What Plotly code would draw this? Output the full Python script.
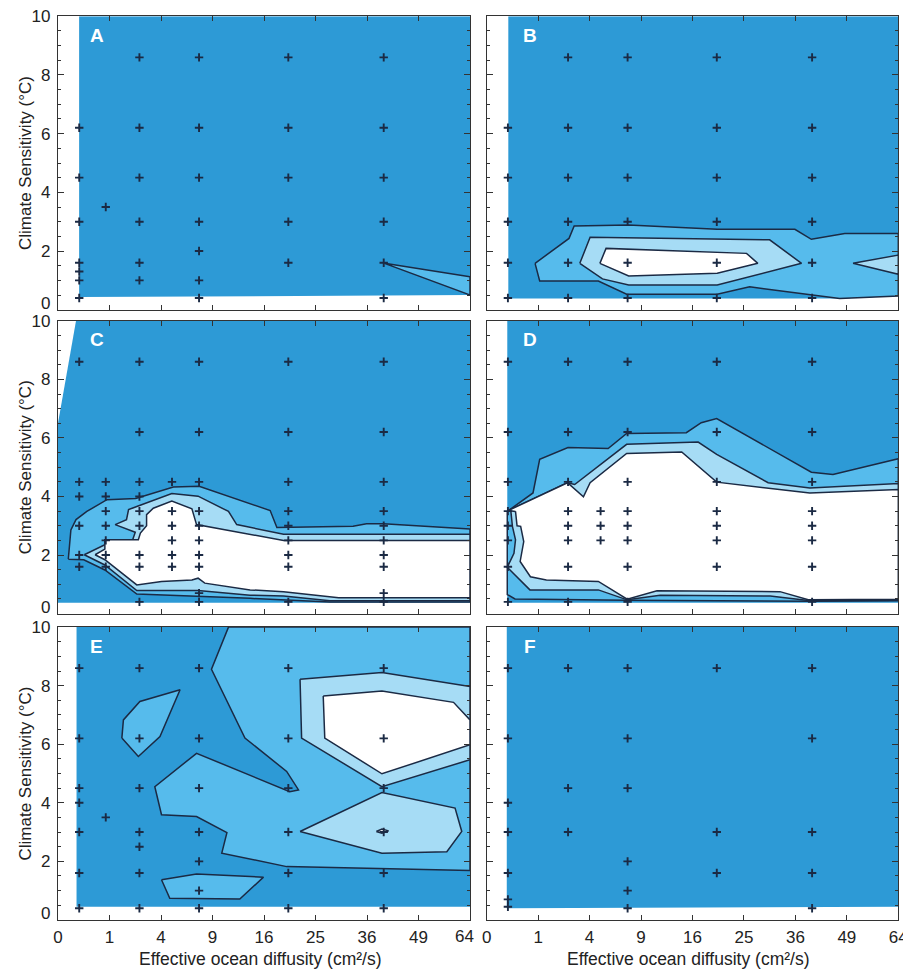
import numpy as np
import plotly.graph_objects as go

# ---------------- colours ----------------
DARK = "#2d9ad6"
MED = "#56bbec"
LIGHT = "#a6dcf5"
WHITE = "#ffffff"
LINE = "#1b2a44"
FONT = "Liberation Sans, Arial, Helvetica, sans-serif"

# ---------------- axes ----------------
DIFF_TICKS = [0, 1, 4, 9, 16, 25, 36, 49, 64]          # cm^2/s, sqrt-scaled axis
SENS_TICKS = [0, 2, 4, 6, 8, 10]                         # deg C
PANEL_LETTERS = ["A", "B", "C", "D", "E", "F"]

# model-run grid: diffusivity columns (cm^2/s)
GRID_K = {"a": 0.17, "b": 0.86, "c": 2.5, "d": 4.9, "e": 7.5, "f": 20.0, "g": 40.0}

# model runs (+ markers): column -> climate sensitivities
RUNS_A = {"a": [6.2, 4.5, 3.0, 1.6, 1.3, 1.0, 0.4], "b": [3.5],
          "c": [8.6, 6.2, 4.5, 3.0, 1.6, 1.0], "e": [8.6, 6.2, 4.5, 3.0, 2.0, 1.0, 0.4],
          "f": [8.6, 6.2, 4.5, 3.0, 1.6], "g": [8.6, 6.2, 4.5, 3.0, 1.6, 0.4]}
RUNS_B = {"a": [6.2, 4.5, 3.0, 1.6, 0.4], "c": [8.6, 6.2, 4.5, 3.0, 1.6, 0.4],
          "e": [8.6, 6.2, 4.5, 3.0, 1.6, 0.4], "f": [8.6, 6.2, 4.5, 3.0, 1.6, 0.4],
          "g": [8.6, 6.2, 4.5, 3.0, 1.6, 0.4]}
RUNS_C = {"a": [8.6, 4.5, 4.0, 3.0, 2.0, 1.6], "b": [4.5, 4.0, 3.5, 3.0, 2.5, 2.0, 1.6],
          "c": [8.6, 6.2, 4.5, 4.0, 3.5, 3.0, 2.0, 1.6, 0.4], "d": [4.5, 3.5, 3.0, 2.5, 2.0, 1.6],
          "e": [8.6, 6.2, 4.5, 3.5, 3.0, 2.5, 2.0, 1.6, 0.7, 0.4],
          "f": [8.6, 6.2, 4.5, 3.5, 3.0, 2.5, 2.0, 1.6, 0.4],
          "g": [8.6, 6.2, 4.5, 3.5, 3.0, 2.5, 2.0, 1.6, 0.7, 0.4]}
RUNS_D = {"a": [8.6, 6.2, 4.5, 3.5, 3.0, 2.5, 1.6, 0.4], "c": [8.6, 6.2, 4.5, 3.5, 3.0, 2.5, 1.6, 0.4],
          "d": [3.5, 3.0, 2.5], "e": [8.6, 6.2, 4.5, 3.5, 3.0, 2.5, 1.6, 0.4],
          "f": [8.6, 6.2, 4.5, 3.5, 3.0, 2.5, 1.6], "g": [8.6, 6.2, 4.5, 3.5, 3.0, 2.5, 1.6, 0.4]}
RUNS_E = {"a": [8.6, 6.2, 4.5, 4.0, 3.0, 1.6, 0.4], "b": [3.5],
          "c": [8.6, 6.2, 4.5, 3.0, 2.5, 1.6, 0.4], "e": [8.6, 6.2, 4.5, 3.0, 2.0, 1.0, 0.4],
          "f": [8.6, 6.2, 4.5, 3.0, 1.6, 0.4], "g": [8.6, 6.2, 4.5, 3.0, 1.6, 0.4]}
RUNS_F = {"a": [8.6, 6.2, 4.0, 3.0, 1.6, 0.7, 0.45], "c": [8.6, 4.5, 3.0],
          "e": [8.6, 6.2, 4.5, 2.0, 1.0, 0.4], "f": [8.6, 3.0, 1.6], "g": [8.6, 6.2, 3.0, 1.6, 0.4]}

# ---------------- contour regions: vertices (sqrt(K), sensitivity) ----------------
A_BASE = [(0.41, 0.43), (8, 0.5), (8, 10), (0.41, 10)]
A_MED = [[(6.34, 1.58), (8, 1.12), (8, 0.5)]]
A_LIGHT = []
A_WHITE = []

B_BASE = [(0.42, 0.38), (6.86, 0.38), (8, 0.47), (8, 10), (0.42, 10)]
B_MED = [[(0.94, 1.58), (1.03, 0.98), (2.17, 0.98), (2.72, 0.53), (4.48, 0.53), (5.11, 0.78),
          (6.86, 0.38), (8, 0.47), (8, 2.6), (6.96, 2.6), (6.31, 2.4), (5.99, 2.74),
          (4.48, 2.74), (2.76, 2.89), (1.70, 2.85), (1.60, 2.43)]]
B_LIGHT = [[(1.81, 1.58), (2.01, 2.47), (5.50, 2.38), (6.12, 1.58), (4.48, 0.84), (2.76, 0.84),
            (2.25, 1.05)],
           [(7.12, 1.58), (8, 1.86), (8, 1.21)]]
B_WHITE = [[(2.20, 1.58), (2.32, 2.09), (5.05, 1.92), (5.27, 1.58), (4.48, 1.24), (2.76, 1.15)]]

C_BASE = [(0, 0.37), (8, 0.37), (8, 10), (0.35, 10), (0, 6.5)]
C_MED = [[(0.20, 1.86), (0.25, 2.86), (0.35, 3.21), (0.56, 3.49), (0.95, 3.89), (1.51, 3.93),
          (2.24, 4.32), (2.74, 4.35), (4.12, 3.52), (4.25, 2.94), (5.73, 2.98), (5.99, 3.07),
          (6.32, 3.07), (8, 2.89), (8, 0.40), (5.28, 0.40), (3.73, 0.52), (2.72, 0.58),
          (1.53, 0.67), (0.91, 1.49), (0.5, 1.84)]]
C_LIGHT = [[(0.51, 2.01), (0.91, 2.35), (0.91, 2.52), (1.45, 2.52), (1.50, 2.78), (1.11, 3.04),
            (1.33, 3.21), (1.37, 3.55), (1.53, 3.66), (2.21, 4.10), (2.72, 4.01), (3.31, 3.49),
            (3.47, 3.04), (4.38, 2.71), (8, 2.71), (8, 0.44), (5.28, 0.44), (4.38, 0.60),
            (3.73, 0.63), (2.72, 0.79), (1.53, 0.79), (0.91, 1.66)]]
C_WHITE = [[(0.72, 2.01), (0.91, 2.2), (0.91, 2.52), (1.56, 2.52), (1.60, 2.75), (1.72, 3.0),
            (1.72, 3.38), (1.85, 3.6), (2.21, 3.84), (2.60, 3.58), (2.69, 3.04), (4.38, 2.5),
            (8, 2.5), (8, 0.54), (5.45, 0.54), (4.38, 0.75), (3.73, 0.81), (2.85, 1.04),
            (2.72, 1.21), (2.60, 1.15), (2.01, 1.10), (1.53, 0.98), (0.91, 1.84)]]

D_BASE = [(0.40, 0.37), (8, 0.37), (8, 10), (0.40, 10)]
D_MED = [[(0.40, 3.49), (0.90, 4.12), (1.03, 5.27), (1.58, 5.67), (2.36, 5.64), (2.72, 6.15),
          (3.88, 6.18), (4.17, 6.52), (4.47, 6.66), (6.31, 4.83), (6.73, 4.75), (8, 5.29),
          (8, 0.44), (6.3, 0.42), (2.73, 0.46), (0.55, 0.5), (0.40, 0.65)]]
D_LIGHT = [[(0.47, 3.49), (0.41, 3.51), (1.57, 4.47), (1.71, 4.41), (2.72, 5.78), (4.11, 5.86),
            (4.47, 5.44), (5.47, 4.47), (6.28, 4.29), (8, 4.44), (8, 0.46), (6.25, 0.45),
            (5.51, 0.60), (3.37, 0.63), (2.73, 0.47), (2.17, 0.81), (0.84, 0.81), (0.40, 1.58),
            (0.53, 2.06), (0.56, 2.52), (0.50, 2.98)]]
D_WHITE = [[(0.56, 3.49), (0.42, 3.52), (1.57, 4.47), (1.88, 3.99), (2.01, 4.47), (2.72, 5.47),
            (3.79, 5.52), (4.47, 4.49), (6.28, 4.12), (8, 4.24), (8, 0.49), (6.25, 0.47),
            (5.70, 0.75), (3.31, 0.78), (2.73, 0.49), (2.17, 1.10), (1.16, 1.15), (0.85, 1.26),
            (0.65, 1.78), (0.72, 2.46), (0.66, 2.98), (0.59, 3.0)]]

E_BASE = [(0.36, 0.45), (8, 0.45), (8, 10), (0.36, 10)]
E_MED = [[(3.31, 10), (8, 10), (8, 1.69), (4.44, 1.82), (3.18, 2.28), (3.28, 2.98), (2.69, 3.53),
          (2.01, 3.59), (1.88, 4.55), (2.69, 5.69), (4.50, 4.38), (4.67, 4.44), (4.44, 5.07),
          (3.63, 6.21), (2.98, 8.56)],
         [(1.24, 6.21), (1.27, 6.83), (1.59, 7.46), (2.37, 7.86), (1.98, 6.26), (1.56, 5.58)],
         [(2.01, 1.37), (2.69, 1.57), (3.99, 1.46), (3.53, 0.71), (2.17, 0.74)]]
E_LIGHT = [[(4.70, 8.22), (6.29, 8.45), (8, 7.97), (8, 5.47), (6.29, 4.55), (4.73, 6.21)],
           [(4.70, 3.02), (6.29, 4.35), (7.71, 3.82), (7.84, 3.02), (7.55, 2.33), (6.29, 2.28)]]
E_WHITE = [[(5.15, 7.65), (6.29, 7.82), (7.68, 7.43), (8, 6.83), (8, 5.98), (6.29, 4.99),
            (5.18, 6.21)],
           [(6.18, 3.02), (6.29, 3.1), (6.42, 3.04), (6.29, 2.96)]]

F_BASE = [(0.39, 0.4), (8, 0.45), (8, 10), (0.39, 10)]
F_MED, F_LIGHT, F_WHITE = [], [], []

PANELS = [
    (A_BASE, A_MED, A_LIGHT, A_WHITE, RUNS_A),
    (B_BASE, B_MED, B_LIGHT, B_WHITE, RUNS_B),
    (C_BASE, C_MED, C_LIGHT, C_WHITE, RUNS_C),
    (D_BASE, D_MED, D_LIGHT, D_WHITE, RUNS_D),
    (E_BASE, E_MED, E_LIGHT, E_WHITE, RUNS_E),
    (F_BASE, F_MED, F_LIGHT, F_WHITE, RUNS_F),
]

# ---------------- layout geometry (page pixels; page body has an 8px margin) ----------------
OFF = 8
W, H = 911 - OFF, 971 - OFF
COL_PX = [(58, 470), (486.7, 898.3)]
ROW_PX = [(16.3, 309.7), (320.8, 613.6), (627.1, 919.9)]
TICK_SIZE = 17
YTITLE_SIZE = 17
XTITLE_SIZE = 17.5


def fx(p):
    return (p - OFF) / W


def fy(p):
    return 1 - (p - OFF) / H


def closed(poly):
    xs = [p[0] for p in poly] + [poly[0][0]]
    ys = [p[1] for p in poly] + [poly[0][1]]
    return xs, ys


fig = go.Figure()
layout = dict(width=W, height=H, margin=dict(l=0, r=0, t=0, b=0, autoexpand=False),
              paper_bgcolor="white", plot_bgcolor="white", showlegend=False,
              font=dict(family=FONT, color="#222222"))
annotations = []
tick_font = dict(size=TICK_SIZE, family=FONT, color="#222")

for i, (base, meds, lights, whites, runs) in enumerate(PANELS):
    n = i + 1
    row, col = divmod(i, 2)
    sfx = "" if n == 1 else str(n)
    xa, ya = "x" + sfx, "y" + sfx
    # dark base region
    bx, by = closed(base)
    fig.add_trace(go.Scatter(x=bx, y=by, mode="none", fill="toself", fillcolor=DARK,
                             xaxis=xa, yaxis=ya, hoverinfo="skip"))
    for polys, colr in ((meds, MED), (lights, LIGHT), (whites, WHITE)):
        for poly in polys:
            px_, py_ = closed(poly)
            fig.add_trace(go.Scatter(x=px_, y=py_, mode="lines", fill="toself", fillcolor=colr,
                                     line=dict(color=LINE, width=1.5),
                                     xaxis=xa, yaxis=ya, hoverinfo="skip"))
    mx, my = [], []
    for key, svals in runs.items():
        for s in svals:
            mx.append(np.sqrt(GRID_K[key]))
            my.append(s)
    fig.add_trace(go.Scatter(x=mx, y=my, mode="markers",
                             marker=dict(symbol="cross-thin", size=6,
                                         line=dict(color=LINE, width=1.9)),
                             xaxis=xa, yaxis=ya, hoverinfo="skip"))

    x0, x1 = COL_PX[col]
    y0, y1 = ROW_PX[row]
    xtext = [str(k) for k in DIFF_TICKS]
    if col == 0:
        xtext[-1] = ""      # drawn below as a label nudged left, clear of the next panel's "0"
    layout["xaxis" + sfx] = dict(domain=[fx(x0), fx(x1)], range=[0, 8], anchor=ya,
                                 automargin=False, ticklabeloverflow="allow",
                                 tickvals=[float(np.sqrt(k)) for k in DIFF_TICKS],
                                 ticktext=xtext,
                                 showticklabels=(row == 2), ticks="inside", ticklen=5,
                                 tickcolor="#333", tickwidth=1,
                                 showline=True, linecolor="#333", linewidth=1.2, mirror="ticks",
                                 showgrid=False, zeroline=False,
                                 tickfont=tick_font, ticklabelstandoff=2)
    layout["yaxis" + sfx] = dict(domain=[fy(y1), fy(y0)], range=[0, 10], anchor=xa,
                                 automargin=False, ticklabeloverflow="allow",
                                 tickvals=SENS_TICKS,
                                 ticktext=[("" if v == 0 else str(v)) for v in SENS_TICKS],
                                 showticklabels=(col == 0),
                                 ticks="inside", ticklen=6, tickcolor="#333", tickwidth=1,
                                 minor=dict(dtick=0.5, ticks="inside", ticklen=3, tickcolor="#333"),
                                 showline=True, linecolor="#333", linewidth=1.2, mirror="ticks",
                                 showgrid=False, zeroline=False,
                                 tickfont=tick_font, ticklabelstandoff=3)
    annotations.append(dict(text=f"<b>{PANEL_LETTERS[i]}</b>", xref=f"{xa} domain",
                            yref=f"{ya} domain", x=0.094 if col == 0 else 0.105, y=0.935,
                            showarrow=False, xanchor="center", yanchor="middle",
                            font=dict(size=19, color="white", family=FONT)))
    if col == 0:
        # the "0" sensitivity label sits a little above its tick, as in the original
        annotations.append(dict(text=str(SENS_TICKS[0]), xref=f"{xa} domain", yref=ya,
                                x=0, y=SENS_TICKS[0], xshift=-6, yshift=6,
                                showarrow=False, xanchor="right", yanchor="middle",
                                font=tick_font))
        annotations.append(dict(text="Climate Sensitivity (°C)", xref="paper", yref="paper",
                                x=fx(25), y=fy((y0 + y1) / 2), textangle=-90,
                                showarrow=False, xanchor="center", yanchor="middle",
                                font=dict(size=YTITLE_SIZE, family=FONT, color="#222")))
    if row == 2:
        if col == 0:
            annotations.append(dict(text=str(DIFF_TICKS[-1]), xref=f"{xa} domain",
                                    yref=f"{ya} domain", x=1, y=0, xshift=-6, yshift=-17,
                                    showarrow=False, xanchor="center", yanchor="middle",
                                    font=tick_font))
        annotations.append(dict(text="Effective ocean diffusity (cm²/s)",
                                xref="paper", yref="paper", x=fx((x0 + x1) / 2 - 4),
                                y=fy(959), showarrow=False, xanchor="center",
                                yanchor="middle",
                                font=dict(size=XTITLE_SIZE, family=FONT, color="#222")))

layout["annotations"] = annotations
fig.update_layout(**layout)
fig.write_html("out.html")
